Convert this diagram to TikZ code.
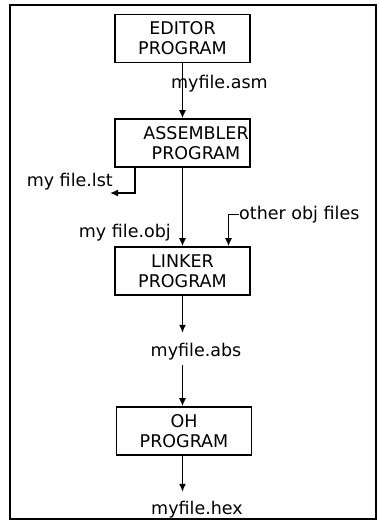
\documentclass[tikz,border=0pt]{standalone}
\usepackage{fontspec}
\setmainfont{DejaVu Sans}
\usetikzlibrary{arrows.meta}
\usetikzlibrary{positioning}
\begin{document}
\begin{tikzpicture}[x=1pt,y=-1pt]
  \tikzset{
    prog/.style={draw,line width=0.55mm,minimum width=135pt,minimum height=48pt,
      inner sep=0pt,align=center,font=\fontsize{17.5}{20}\selectfont},
    file/.style={inner sep=0pt,text height=13pt,text depth=4pt,
      font=\fontsize{17.5}{20}\selectfont},
    flow/.style={line width=0.5mm,-{Latex[length=8pt,width=7pt]}},
  }
  \useasboundingbox (0,0) rectangle (378,521);
  %FRAME
  \draw[line width=0.55mm] (10,5) rectangle (376,519);
  %BOXES
  \node[prog] (ed) at (182.5,38.5) {EDITOR\\PROGRAM};
  \node[prog] (asm) at (182.5,143) {};
  \node[align=center,inner sep=0pt,font=\fontsize{17.5}{20}\selectfont] (asmtxt) at (196,143) {ASSEMBLER\\PROGRAM};
  \node[prog] (lnk) at (182.5,271) {LINKER\\PROGRAM};
  \node[prog] (oh) at (184,431) {OH\\PROGRAM};
  %FILES
  \node[file,anchor=base west] (asmf) at (171,89) {myfile.asm};
  \node[file,anchor=base east] (lst) at (113,187) {my file.lst};
  \node[file,anchor=base east] (obj) at (171,237) {my file.obj};
  \node[file,anchor=base west] (oth) at (239,219) {other obj files};
  \node[file,anchor=base] (abs) at (196,356) {myfile.abs};
  \node[file,anchor=base] (hex) at (197,514) {myfile.hex};
  \coordinate (lstend) at (110,193);
  %ARROWS
  \draw[flow] (ed.south) -- (asm.north);
  \draw[flow] (asm.south) -- (lnk.north);
  \draw[flow] ([xshift=-47.5pt]asm.south) |- (lstend);
  \draw[flow] (oth.west) -| ([xshift=46pt]lnk.north);
  \draw[flow,shorten >=10pt] (lnk.south) -- (lnk.south |- abs.north);
  \draw[flow,shorten <=5pt] (lnk.south |- abs.south) -- (lnk.south |- oh.north);
  \draw[flow,shorten >=9pt] (lnk.south |- oh.south) -- (lnk.south |- hex.north);
\end{tikzpicture}
\end{document}
